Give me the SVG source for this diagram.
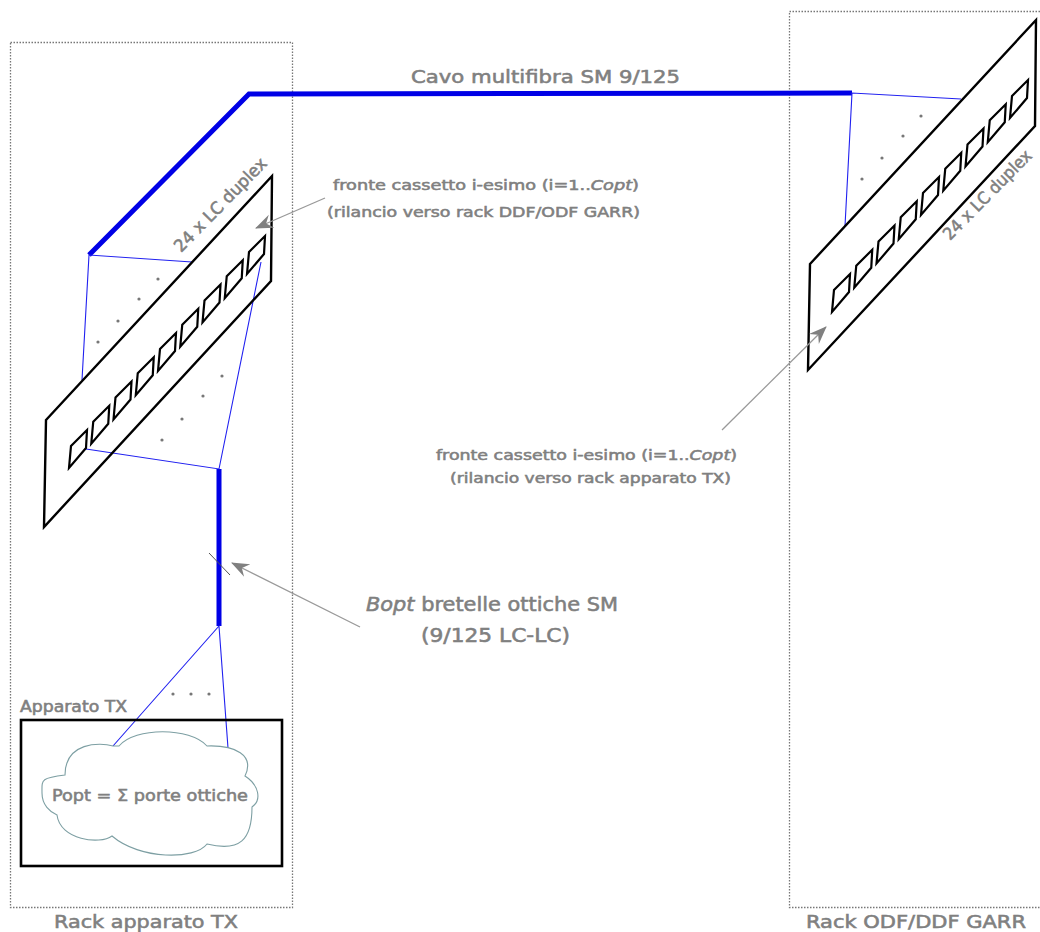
<svg xmlns="http://www.w3.org/2000/svg" width="1040" height="932" viewBox="0 0 1040 932">
<style>
.t{font-family:"DejaVu Sans","Noto Sans",sans-serif;fill:#808080;stroke:#808080;stroke-width:.55}
.i{font-style:italic}
.rack{fill:none;stroke:#777;stroke-width:1.3;stroke-dasharray:1.5 1.5}
.port{fill:none;stroke:#000;stroke-width:2.2}
.thick{fill:none;stroke:#0000e6;stroke-width:5}
.thin{fill:none;stroke:#2020f0;stroke-width:1.1}
.arrow{fill:none;stroke:#999;stroke-width:1.3}
.dot{fill:#777}
</style>
<defs>
<marker id="ah" viewBox="0 0 18 16" refX="17" refY="8" markerWidth="18" markerHeight="16" markerUnits="userSpaceOnUse" orient="auto">
<path d="M0 1L18 8L0 15L6 8Z" fill="#808080"/>
</marker>
<polygon id="p" class="port" points="0,0 2,-22 18,-38 17,-20"/>
</defs>
<g id="rack-tx"><rect class="rack" x="10.500" y="42.500" width="282" height="865"/>
<text class="t" x="54" y="928" font-size="18" textLength="184" lengthAdjust="spacingAndGlyphs">Rack apparato TX</text></g>
<g id="rack-odf"><path class="rack" d="M1040 11.500H789.500V907.500H1040"/>
<text class="t" x="806" y="928" font-size="17" textLength="220" lengthAdjust="spacingAndGlyphs">Rack ODF/DDF GARR</text></g>
<g id="connectors">
<path class="thick" d="M89 255L249 94L852 93"/>
<path class="thin" d="M192 262L89 255L82 380"/>
<path class="thin" d="M86 449L219 469L261 262"/>
<path class="thick" d="M219 469V626"/>
<path class="thin" d="M113 746L219 626L228 748"/>
<path class="thin" d="M961 99L852 93L845 226"/>
<path d="M209 553L230 575" fill="none" stroke="#555" stroke-width="1"/>
</g>
<g id="dots">
<circle class="dot" cx="158" cy="279" r="1.6"/><circle class="dot" cx="139" cy="299" r="1.6"/><circle class="dot" cx="118" cy="321" r="1.6"/><circle class="dot" cx="98" cy="342" r="1.6"/>
<circle class="dot" cx="222" cy="376" r="1.6"/><circle class="dot" cx="203" cy="396" r="1.6"/><circle class="dot" cx="182" cy="419" r="1.6"/><circle class="dot" cx="162" cy="440" r="1.6"/>
<circle class="dot" cx="921" cy="116" r="1.6"/><circle class="dot" cx="903" cy="136" r="1.6"/><circle class="dot" cx="882" cy="158" r="1.6"/><circle class="dot" cx="862" cy="179" r="1.6"/>
<circle class="dot" cx="173" cy="694" r="1.6"/><circle class="dot" cx="191" cy="694" r="1.6"/><circle class="dot" cx="209" cy="694" r="1.6"/>
</g>
<g id="panel-tx">
<path d="M46 420L272 176L271 281L44 527Z" fill="none" stroke="#000" stroke-width="2.4"/>
<use href="#p" x="69" y="468"/><use href="#p" x="91.250" y="443.750"/><use href="#p" x="113.500" y="419.500"/><use href="#p" x="135.750" y="395.250"/><use href="#p" x="158" y="371"/><use href="#p" x="180.250" y="346.750"/><use href="#p" x="202.500" y="322.500"/><use href="#p" x="224.750" y="298.250"/><use href="#p" x="247" y="274"/>
<text class="t" font-size="17" transform="translate(181 253) rotate(-45.500)" textLength="124" lengthAdjust="spacingAndGlyphs">24 x LC duplex</text>
</g>
<g id="panel-odf">
<path d="M810 264L1036 20L1035 126L808 370Z" fill="none" stroke="#000" stroke-width="2.4"/>
<use href="#p" x="832" y="312"/><use href="#p" x="854.250" y="287.750"/><use href="#p" x="876.500" y="263.500"/><use href="#p" x="898.750" y="239.250"/><use href="#p" x="921" y="215"/><use href="#p" x="943.250" y="190.750"/><use href="#p" x="965.500" y="166.500"/><use href="#p" x="987.750" y="142.250"/><use href="#p" x="1010" y="118"/>
<text class="t" font-size="17" transform="translate(950 241) rotate(-45.500)" textLength="118" lengthAdjust="spacingAndGlyphs">24 x LC duplex</text>
</g>
<g id="apparato-tx">
<rect x="21" y="720" width="261" height="146" fill="none" stroke="#000" stroke-width="2.6"/>
<text class="t" x="20" y="712" font-size="15" textLength="107" lengthAdjust="spacingAndGlyphs">Apparato TX</text>
<path d="M113 746C100 742 65 742 65 775C40 778 42 780 42 793C42 805 50 812 57 815C60 840 100 845 112 836C140 860 195 860 207 844C240 852 252 840 252 807C262 800 259 785 245 776C255 755 235 745 207 746C190 727 135 727 119 746Z" fill="#fff" stroke="#7d9fa3" stroke-width="1.1"/>
<text class="t" x="52" y="801" font-size="15.500" textLength="196" lengthAdjust="spacingAndGlyphs">Popt = Σ porte ottiche</text>
</g>
<g id="labels">
<text class="t" x="411" y="83" font-size="17.500" textLength="269" lengthAdjust="spacingAndGlyphs">Cavo multifibra SM 9/125</text>
<text class="t" x="333" y="190" font-size="14" textLength="306" lengthAdjust="spacingAndGlyphs">fronte cassetto i-esimo (i=1..<tspan class="i">Copt</tspan>)</text>
<text class="t" x="327" y="217" font-size="14" textLength="313" lengthAdjust="spacingAndGlyphs">(rilancio verso rack DDF/ODF GARR)</text>
<text class="t" x="436" y="460" font-size="14" textLength="301" lengthAdjust="spacingAndGlyphs">fronte cassetto i-esimo (i=1..<tspan class="i">Copt</tspan>)</text>
<text class="t" x="450" y="483" font-size="14" textLength="281" lengthAdjust="spacingAndGlyphs">(rilancio verso rack apparato TX)</text>
<text class="t" x="366" y="611" font-size="19" textLength="252" lengthAdjust="spacingAndGlyphs"><tspan class="i">Bopt</tspan> bretelle ottiche SM</text>
<text class="t" x="421" y="642" font-size="19" textLength="149" lengthAdjust="spacingAndGlyphs">(9/125 LC-LC)</text>
</g>
<g id="arrows">
<path class="arrow" d="M325 198L256 228" marker-end="url(#ah)"/>
<path class="arrow" d="M722 430L826 327" marker-end="url(#ah)"/>
<path class="arrow" d="M360 627L232 563" marker-end="url(#ah)"/>
</g>
</svg>
